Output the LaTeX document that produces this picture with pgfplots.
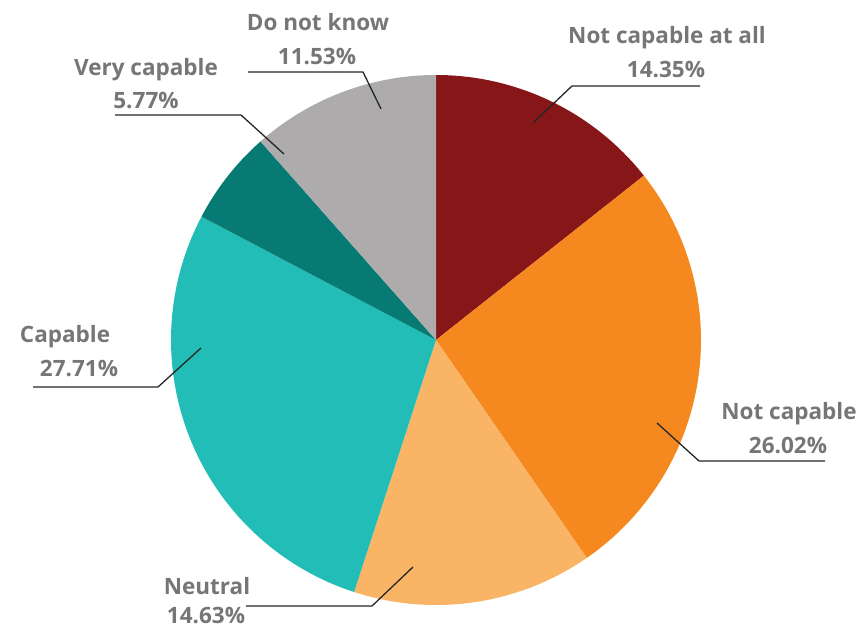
\documentclass[border=0pt]{standalone}
\usepackage{pgfplots}
\pgfplotsset{compat=1.18}
\usepackage{pgfplotstable}
\usepackage{fontspec}
\setmainfont{Open Sans}
\definecolor{slice0}{HTML}{861618}
\definecolor{slice1}{HTML}{F5891F}
\definecolor{slice2}{HTML}{F9B565}
\definecolor{slice3}{HTML}{23BDB7}
\definecolor{slice4}{HTML}{077A73}
\definecolor{slice5}{HTML}{ADABAC}
\definecolor{lbl}{HTML}{767676}
\definecolor{ldr}{HTML}{262626}
\tikzset{lab/.style={font=\fontsize{22.5}{26}\selectfont\bfseries,text=lbl,inner sep=0pt}}
\pgfplotstableread{
label value
NotCapableAtAll 14.35
NotCapable 26.02
Neutral 14.63
Capable 27.71
VeryCapable 5.77
DoNotKnow 11.53
}\piedata
\begin{document}
\begin{tikzpicture}
\begin{axis}[x=1pt,y=1pt,xmin=0,xmax=865,ymin=-632,ymax=0,hide axis,clip=false]
\def\cum{0}
\pgfplotsforeachungrouped \i in {0,...,5}{%
  \pgfplotstablegetelem{\i}{value}\of\piedata
  \let\v\pgfplotsretval
  \pgfmathsetmacro\sa{90-3.6*\cum}%
  \pgfmathsetmacro\ea{90-3.6*(\cum+\v)}%
  \pgfmathsetmacro\cum{\cum+\v}%
  \edef\temp{\noexpand\fill[fill=slice\i] (axis cs:436,-340) -- ++(\sa:265pt) arc[start angle=\sa, end angle=\ea, radius=265pt] -- cycle;}%
  \temp
}
% leader lines
\draw[ldr,line width=1.3pt] (axis cs:533,-123) -- (axis cs:572,-86) -- (axis cs:700,-86);
\draw[ldr,line width=1.3pt] (axis cs:248,-72) -- (axis cs:363,-72) -- (axis cs:381,-109);
\draw[ldr,line width=1.3pt] (axis cs:115,-115) -- (axis cs:241,-115) -- (axis cs:284,-154);
\draw[ldr,line width=1.3pt] (axis cs:33,-387) -- (axis cs:158,-387) -- (axis cs:201,-348);
\draw[ldr,line width=1.3pt] (axis cs:657,-423) -- (axis cs:699,-461) -- (axis cs:825,-461);
\draw[ldr,line width=1.3pt] (axis cs:413,-567) -- (axis cs:372,-606) -- (axis cs:246,-606);
% labels
\node[lab] at (axis cs:667,-38) {Not capable at all};
\node[lab] at (axis cs:666,-70) {14.35\%};
\node[lab] at (axis cs:318,-22) {Do not know};
\node[lab] at (axis cs:317,-57) {11.53\%};
\node[lab] at (axis cs:146,-70) {Very capable};
\node[lab] at (axis cs:146,-101) {5.77\%};
\node[lab] at (axis cs:65,-337) {Capable};
\node[lab] at (axis cs:79,-369) {27.71\%};
\node[lab] at (axis cs:789,-414) {Not capable};
\node[lab] at (axis cs:788,-445) {26.02\%};
\node[lab] at (axis cs:207,-586) {Neutral};
\node[lab] at (axis cs:206,-616) {14.63\%};
\end{axis}
\pgfresetboundingbox
\path (current axis.south west) rectangle (current axis.north east);
\end{tikzpicture}
\end{document}
